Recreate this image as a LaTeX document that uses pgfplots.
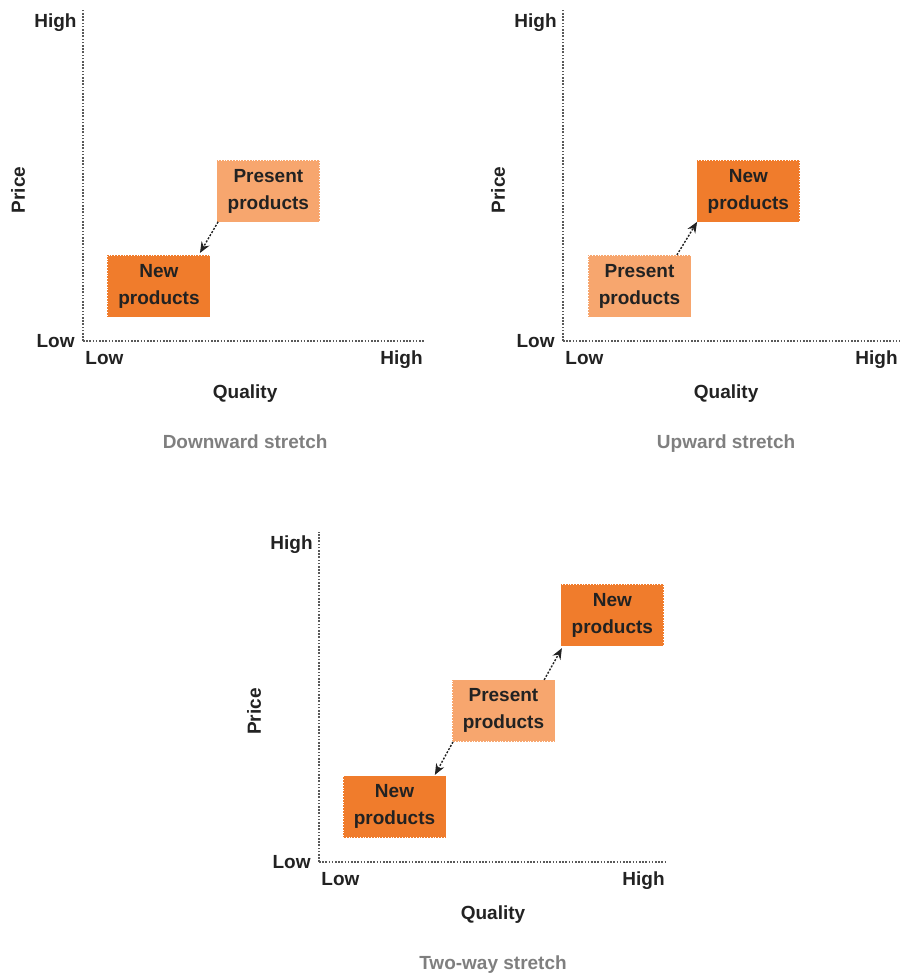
\documentclass[border=0pt]{standalone}
\usepackage{fontspec}
\setmainfont{Liberation Sans}
\usepackage{pgfplots}
\pgfplotsset{compat=1.18}
\usetikzlibrary{arrows.meta,calc}

\definecolor{neworange}{HTML}{F07C2C}
\definecolor{oldorange}{HTML}{F7A66E}
\definecolor{inkgray}{HTML}{222222}
\definecolor{titlegray}{HTML}{7F7F7F}

\pgfplotsset{
  stretch/.style={
    scale only axis, clip=false,
    xmin=0, xmax=10, ymin=0, ymax=10,
    axis lines=left,
    axis line style={draw=gray!70!black, dash pattern=on 0.8pt off 0.8pt, line width=0.6pt, -},
    xtick=\empty, ytick=\empty,
    anchor=south west,
  },
}
\tikzset{
  lbl/.style={font=\bfseries\fontsize{9.5}{11}\selectfont, text=inkgray, inner sep=0pt,
    text height=6.8pt, text depth=0pt},
  box/.style={align=center, font=\bfseries\fontsize{9.5}{13.5}\selectfont, text=inkgray,
    minimum width=51.5pt, minimum height=31pt, inner sep=0pt,
    draw=white, densely dotted, line width=0.4pt},
  newbox/.style={box, fill=neworange},
  oldbox/.style={box, fill=oldorange},
  move/.style={draw=inkgray, dash pattern=on 1pt off 0.8pt, line width=0.7pt, -{Stealth[length=5.5pt,width=4.5pt]}},
}

% tick words, axis titles and panel caption
\newcommand{\axislabels}[2]{
  \node[lbl, anchor=west] at ($(rel axis cs:0,0)+(1pt,-8.5pt)$) {Low};
  \node[lbl, anchor=east] at ($(rel axis cs:1,0)+(-1pt,-8.5pt)$) {High};
  \node[lbl, anchor=east] at ($(rel axis cs:0,0)+(-4pt,0pt)$) {Low};
  \node[lbl, anchor=east] at ($(rel axis cs:0,1)+(-3pt,-5.5pt)$) {High};
  \node[lbl] at ($(rel axis cs:#1,0)+(0pt,-25.5pt)$) {Quality};
  \node[lbl, text=titlegray] at ($(rel axis cs:#1,0)+(0pt,-50.5pt)$) {#2};
  \node[lbl, rotate=90] at ($(rel axis cs:0,0.456)+(-32.5pt,0pt)$) {Price};
}

\begin{document}
\begin{tikzpicture}
\useasboundingbox (0pt,0pt) rectangle (450.5pt,-487pt);

% Downward stretch
\begin{axis}[stretch, width=171pt, height=165.5pt, at={(41.5pt,-170.5pt)}]
  \node[oldbox] at (axis cs:5.42,4.53) {Present\\products};
  \node[newbox] at (axis cs:2.22,1.66) {New\\products};
  \draw[move] (axis cs:3.95,3.60) -- (axis cs:3.42,2.66);
  \axislabels{0.474}{Downward stretch}
\end{axis}

% Upward stretch
\begin{axis}[stretch, width=168.5pt, height=165.5pt, at={(281.5pt,-170.5pt)}]
  \node[newbox] at (axis cs:5.50,4.53) {New\\products};
  \node[oldbox] at (axis cs:2.27,1.66) {Present\\products};
  \draw[move] (axis cs:3.38,2.60) -- (axis cs:3.98,3.60);
  \axislabels{0.484}{Upward stretch}
\end{axis}

% Two-way stretch
\begin{axis}[stretch, width=174pt, height=165pt, at={(159.5pt,-431pt)}]
  \node[newbox] at (axis cs:8.43,7.48) {New\\products};
  \node[oldbox] at (axis cs:5.30,4.58) {Present\\products};
  \node[newbox] at (axis cs:2.17,1.68) {New\\products};
  \draw[move] (axis cs:6.47,5.52) -- (axis cs:6.98,6.48);
  \draw[move] (axis cs:3.85,3.64) -- (axis cs:3.33,2.64);
  \axislabels{0.5}{Two-way stretch}
\end{axis}
\end{tikzpicture}
\end{document}
